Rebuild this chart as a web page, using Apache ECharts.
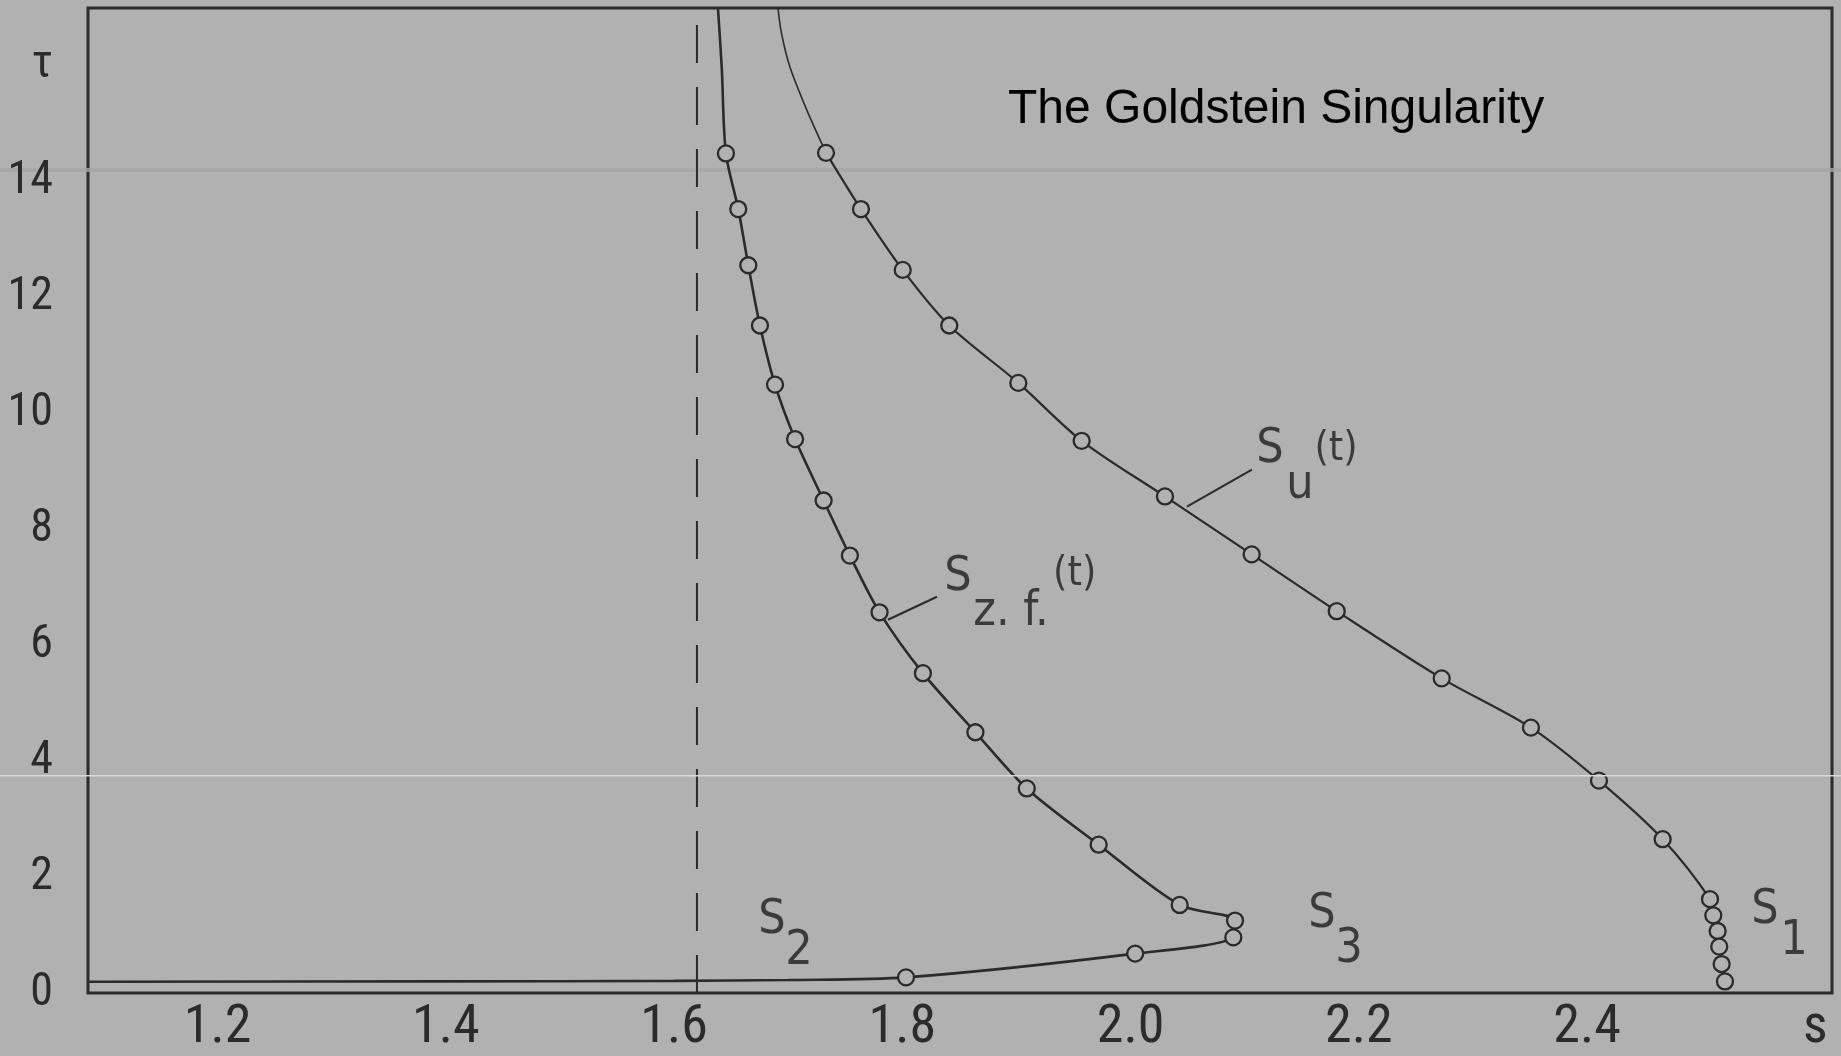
<!DOCTYPE html>
<html><head><meta charset="utf-8">
<script src="https://cdn.jsdelivr.net/npm/echarts@6/dist/echarts.min.js"></script>
<style>html,body{margin:0;padding:0;background:#b1b1b1;}#c{width:1841px;height:1056px;}</style>
</head><body><div id="c"></div>
<script>
// ---- data ----
const titleText = 'The Goldstein Singularity';
const xTicks = [1.2, 1.4, 1.6, 1.8, 2.0, 2.2, 2.4];
const xAxisName = 's';
const xAxisNameAt = 2.6;
const yTicks = [0, 2, 4, 6, 8, 10, 12, 14];
const yAxisName = 'τ';
const yAxisNameAt = 16;

// circles on S_z.f.(t)  [s, tau]
const szfPoints = [
  [1.6454, 14.49], [1.6562, 13.53], [1.6650, 12.56], [1.6752, 11.52], [1.6884, 10.50],
  [1.7060, 9.56], [1.7310, 8.50], [1.7540, 7.55], [1.7800, 6.57], [1.8180, 5.52],
  [1.8640, 4.50], [1.9090, 3.53], [1.9720, 2.56], [2.0430, 1.52], [2.0915, 1.25],
  [2.0900, 0.96], [2.0040, 0.68], [1.8032, 0.27]
];
const szfCurveTop = [[1.6384, 17.0], [1.6417, 15.98]];
const szfCurveTail = [[1.70, 0.225], [1.60, 0.21], [1.40, 0.20], [1.0864, 0.195]];

// circles on S_u(t)  [s, tau]
const suPoints = [
  [1.7331, 14.50], [1.7637, 13.53], [1.8003, 12.48], [1.8411, 11.52], [1.9016, 10.53],
  [1.9571, 9.53], [2.0301, 8.57], [2.1061, 7.57], [2.1806, 6.59], [2.2726, 5.43],
  [2.3508, 4.58], [2.4104, 3.665], [2.4662, 2.655], [2.5077, 1.62], [2.5106, 1.34],
  [2.5144, 1.07], [2.5158, 0.80], [2.5179, 0.50], [2.5208, 0.20]
];
const suCurveTop = [[1.6910, 17.0], [1.6940, 16.57], [1.7015, 15.98], [1.7160, 15.25]];

const asymptoteS = 1.62;

// annotation texts, anchored in data units [s, tau]
const annotations = [
  { text: 'S', at: [2.1221, 9.378], role: 'main' },
  { text: 'u', at: [2.1484, 8.756], role: 'sub' },
  { text: '(t)', at: [2.1800, 9.380], role: 'sup' },
  { text: 'S', at: [1.8487, 7.168], role: 'main' },
  { text: 'z. f.', at: [1.8952, 6.563], role: 'sub' },
  { text: '(t)', at: [1.9510, 7.220], role: 'sup' },
  { text: 'S', at: [1.6857, 1.244], role: 'main' },
  { text: '2', at: [1.7094, 0.708], role: 'sub' },
  { text: 'S', at: [2.1677, 1.347], role: 'main' },
  { text: '3', at: [2.1913, 0.743], role: 'sub' },
  { text: 'S', at: [2.5559, 1.416], role: 'main' },
  { text: '1', at: [2.5813, 0.881], role: 'sub' }
];
const leaders = [
  [[2.1063, 9.033], [2.0494, 8.394]],
  [[1.8303, 6.839], [1.7874, 6.442]]
];

// ---- chart ----
const BG = '#b1b1b1', INK = '#2b2b2b';
const TICKFONT = "'Roboto Condensed', 'DejaVu Sans Condensed', sans-serif";
const NOTEFONT = "'DejaVu Sans Condensed', 'Roboto Condensed', sans-serif";
const roleStyle = {
  main: { fontSize: 48 },
  sub: { fontSize: 48 },
  sup: { fontSize: 41 }
};

const chart = echarts.init(document.getElementById('c'), null, { renderer: 'canvas' });

const series = [
  { type: 'line', data: [[asymptoteS, 0], [asymptoteS, 17]], symbol: 'none', silent: true,
    lineStyle: { color: INK, width: 2, type: [38, 24] }, z: 1 },
  { type: 'line', data: szfCurveTop.concat(szfPoints, szfCurveTail), smooth: 0.3, symbol: 'none',
    lineStyle: { color: INK, width: 2.6 }, z: 2 },
  { type: 'line', data: suCurveTop.concat([suPoints[0]]), smooth: 0.3, symbol: 'none',
    lineStyle: { color: INK, width: 1.6 }, z: 2 },
  { type: 'line', data: suPoints, smooth: 0.3, symbol: 'none',
    lineStyle: { color: INK, width: 2.2 }, z: 2 },
  { type: 'scatter', data: szfPoints, symbol: 'circle', symbolSize: 16,
    itemStyle: { color: BG, borderColor: INK, borderWidth: 2.3, opacity: 1 }, z: 3 },
  { type: 'scatter', data: suPoints, symbol: 'circle', symbolSize: 16,
    itemStyle: { color: BG, borderColor: INK, borderWidth: 2.3, opacity: 1 }, z: 3 }
];
leaders.forEach(seg => series.push({ type: 'line', data: seg, symbol: 'none',
  lineStyle: { color: INK, width: 2 }, z: 2 }));
series.push({
  type: 'scatter', symbolSize: 0, z: 5, silent: true,
  data: annotations.map(a => ({
    value: a.at, name: a.text,
    label: Object.assign({ show: true, position: 'inside', formatter: '{b}',
      fontFamily: NOTEFONT, color: '#1e1e1e' }, roleStyle[a.role])
  }))
});

// scanner artefacts of the original print
const graphic = [
  { type: 'rect', shape: { x: 0, y: 775, width: 1841, height: 1.5 }, style: { fill: '#d8d8d8' }, z: 100, silent: true },
  { type: 'rect', shape: { x: 0, y: 168, width: 1841, height: 4 }, style: { fill: '#a6a6a6', opacity: 0.8 }, z: 0, silent: true }
];

chart.setOption({
  backgroundColor: BG,
  animation: false,
  title: { text: titleText, left: 1003, top: 81,
    textStyle: { fontFamily: "'Liberation Sans', Arial, sans-serif", fontSize: 48, fontWeight: 'normal', color: '#000' } },
  grid: { left: 88, right: 9, top: 8, bottom: 63, show: true, borderColor: INK, borderWidth: 3,
    containLabel: false, outerBoundsMode: 'none' },
  xAxis: { type: 'value', min: 1.0864, max: 2.6146,
    axisLine: { show: false }, axisTick: { show: false }, splitLine: { show: false },
    axisLabel: { customValues: xTicks.concat([xAxisNameAt]), margin: 8,
      formatter: v => (Math.abs(v - xAxisNameAt) < 1e-9 ? xAxisName : v.toFixed(1)),
      fontFamily: TICKFONT, fontSize: 54, color: INK } },
  yAxis: { type: 'value', min: 0, max: 17,
    axisLine: { show: false }, axisTick: { show: false }, splitLine: { show: false },
    axisLabel: { customValues: yTicks.concat([yAxisNameAt]), margin: 35,
      formatter: v => (Math.abs(v - yAxisNameAt) < 1e-9 ? yAxisName : String(v)),
      fontFamily: TICKFONT, fontSize: 46, color: INK } },
  graphic: graphic,
  series: series
});
</script></body></html>
